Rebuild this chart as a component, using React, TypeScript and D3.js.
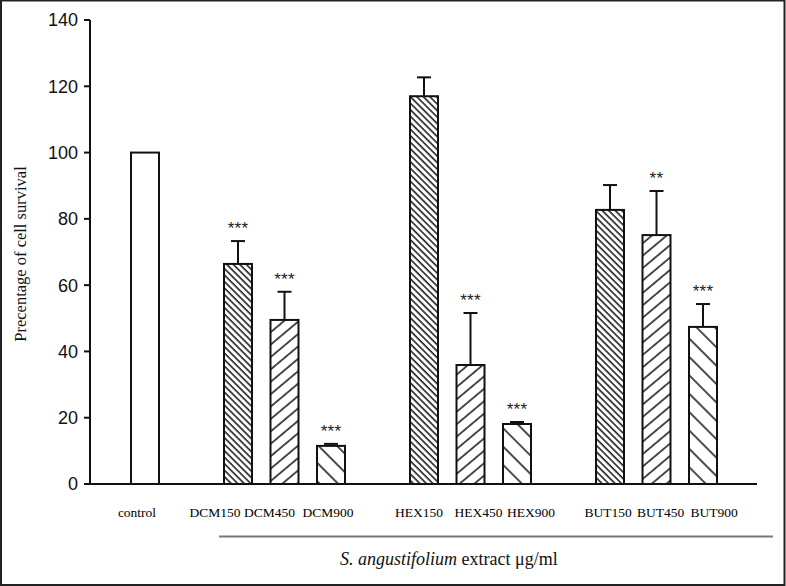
import React from "react";
import * as d3 from "d3";

const categories = ["control", "DCM150", "DCM450", "DCM900", "HEX150", "HEX450", "HEX900", "BUT150", "BUT450", "BUT900"];
const means = [100, 66.4, 49.5, 11.5, 117, 35.9, 18.1, 82.7, 75.1, 47.4];
const errors = [0, 6.9, 8.5, 0.6, 5.7, 15.7, 0.6, 7.5, 13.3, 6.9];
const significance = ["", "***", "***", "***", "", "***", "***", "", "**", "***"];
const patternKind = ["none", "dense", "fwd", "sparse", "dense", "fwd", "sparse", "dense", "fwd", "sparse"];
const yTicks = [0, 20, 40, 60, 80, 100, 120, 140];

// layout (not data): slot index of each bar and label nudges
const slots = [0, 2, 3, 4, 6, 7, 8, 10, 11, 12];
const labelNudge = [-8, -23, -15, -3, -5, 8, 14, -2, 4, 11];

const W = 786;
const H = 586;

export default function App() {
  const y = d3.scaleLinear().domain([0, 140]).range([484, 20]);
  const x = d3.scaleLinear().domain([0, 12]).range([145, 703]);
  const bw = 28;
  const axisX = 90;

  return (
    <svg width={W} height={H} style={{ position: "absolute", left: 0, top: 0, background: "#fff" }}>
      <defs>
        <pattern id="dense" patternUnits="userSpaceOnUse" width={4.6} height={10} patternTransform="rotate(-45)">
          <rect width={4.6} height={10} fill="#fff" />
          <line x1={1} y1={0} x2={1} y2={10} stroke="#111" strokeWidth={1.5} />
        </pattern>
        <pattern id="fwd" patternUnits="userSpaceOnUse" width={9.5} height={10} patternTransform="rotate(50)">
          <rect width={9.5} height={10} fill="#fff" />
          <line x1={1} y1={0} x2={1} y2={10} stroke="#111" strokeWidth={1.5} />
        </pattern>
        <pattern id="sparse" patternUnits="userSpaceOnUse" width={13} height={10} patternTransform="rotate(-45)">
          <rect width={13} height={10} fill="#fff" />
          <line x1={1} y1={0} x2={1} y2={10} stroke="#111" strokeWidth={1.5} />
        </pattern>
      </defs>

      <rect x={1} y={0.5} width={W - 2.5} height={H - 1.5} fill="#fff" stroke="#222" strokeWidth={2} />

      {/* y axis */}
      <line x1={axisX} y1={y(140)} x2={axisX} y2={y(0)} stroke="#111" strokeWidth={2} />
      {yTicks.map((t) => (
        <g key={t}>
          <line x1={axisX - 6} x2={axisX} y1={y(t)} y2={y(t)} stroke="#111" strokeWidth={2} />
          <text
            x={78}
            y={y(t)}
            dy="0.36em"
            textAnchor="end"
            fontFamily="Liberation Sans, Arial, sans-serif"
            fontSize={18}
            fill="#111"
          >
            {t}
          </text>
        </g>
      ))}
      <text
        transform={`translate(26, 254) rotate(-90)`}
        textAnchor="middle"
        fontFamily="Liberation Serif, Times New Roman, serif"
        fontSize={16.5}
        fill="#111"
      >
        Precentage of cell survival
      </text>

      {/* bars */}
      {categories.map((c, i) => {
        const cx = x(slots[i]);
        const top = y(means[i]);
        const errTop = y(means[i] + errors[i]);
        const fill = patternKind[i] === "none" ? "#fff" : `url(#${patternKind[i]})`;
        return (
          <g key={c}>
            {errors[i] > 0 && (
              <g stroke="#111" strokeWidth={2}>
                <line x1={cx} x2={cx} y1={top} y2={errTop} />
                <line x1={cx - 7} x2={cx + 7} y1={errTop} y2={errTop} />
              </g>
            )}
            <rect x={cx - bw / 2} y={top} width={bw} height={y(0) - top} fill={fill} stroke="#111" strokeWidth={2} />
            {significance[i] && (
              <text
                x={cx}
                y={errTop - 7}
                textAnchor="middle"
                fontFamily="Liberation Sans, Arial, sans-serif"
                fontSize={17}
                letterSpacing={0.3}
                fill="#222"
              >
                {significance[i]}
              </text>
            )}
            <text
              x={cx + labelNudge[i]}
              y={517}
              textAnchor="middle"
              fontFamily="Liberation Serif, Times New Roman, serif"
              fontSize={13.5}
              fill="#000"
            >
              {c}
            </text>
          </g>
        );
      })}

      {/* x axis */}
      <line x1={axisX - 5} x2={757} y1={y(0)} y2={y(0)} stroke="#111" strokeWidth={2} />

      {/* group underline and title */}
      <line x1={219} x2={773} y1={536.5} y2={536.5} stroke="#777" strokeWidth={2} />
      <text x={340} y={565} fontFamily="Liberation Serif, Times New Roman, serif" fontSize={18} fill="#111">
        <tspan fontStyle="italic">S. angustifolium</tspan>
        <tspan> extract μg/ml</tspan>
      </text>
    </svg>
  );
}
